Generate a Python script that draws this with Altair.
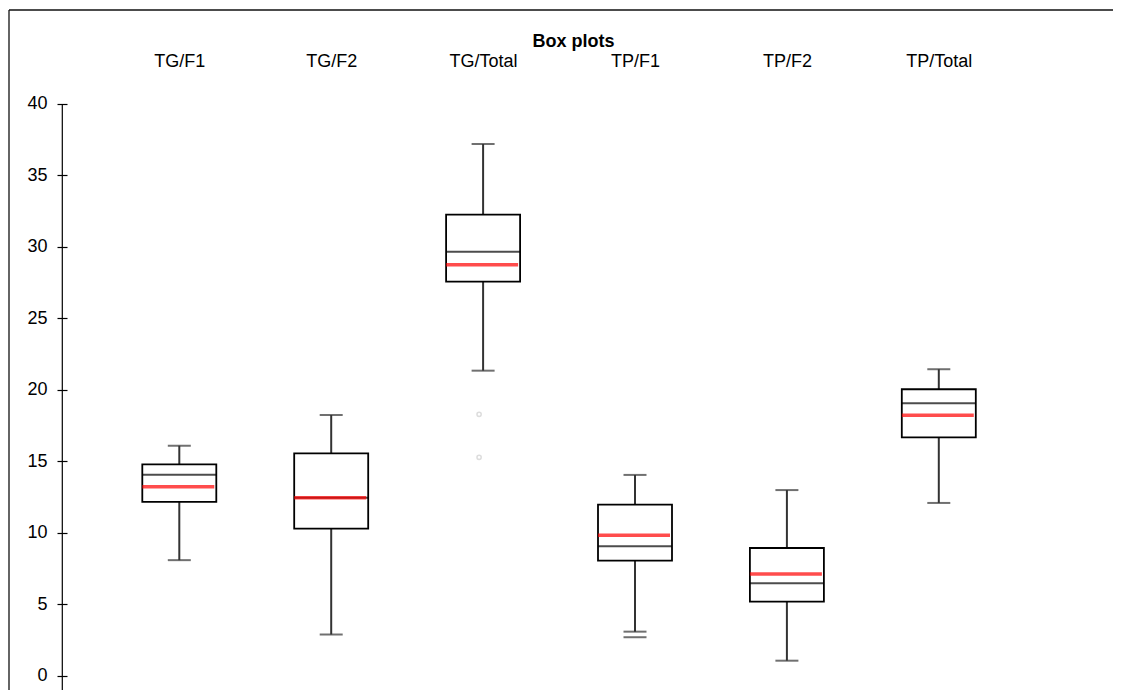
import altair as alt
import pandas as pd

categories = ["TG/F1", "TG/F2", "TG/Total", "TP/F1", "TP/F2", "TP/Total"]
whisker_low = [8.1, 2.9, 21.35, 3.1, 1.07, 12.1]
q1 = [12.17, 10.3, 27.57, 8.07, 5.2, 16.69]
median = [14.08, 12.47, 29.67, 9.07, 6.48, 19.07]
mean = [13.24, 12.47, 28.76, 9.84, 7.13, 18.23]
q3 = [14.8, 15.57, 32.26, 11.98, 8.95, 20.05]
whisker_high = [16.1, 18.25, 37.2, 14.06, 13.0, 21.45]

extra_cap_cat = ["TP/F1"]
extra_cap_val = [2.71]

outlier_cat = ["TG/Total", "TG/Total"]
outlier_val = [18.3, 15.29]

y_ticks = [0, 5, 10, 15, 20, 25, 30, 35, 40]
y_domain = [-0.98, 46.57]

W, H = 1104, 680

df = pd.DataFrame({
    "cat": categories, "lo": whisker_low, "q1": q1, "med": median,
    "mean": mean, "q3": q3, "hi": whisker_high,
})
caps = pd.DataFrame({
    "cat": categories * 2 + extra_cap_cat,
    "v": whisker_low + whisker_high + extra_cap_val,
})
outl = pd.DataFrame({"cat": outlier_cat, "v": outlier_val})
axis_line = pd.DataFrame({"a": [y_ticks[-1]], "b": [y_domain[0]]})

FONT = "Liberation Sans"

xs = alt.X(
    "cat:N", sort=categories,
    scale=alt.Scale(type="point", padding=0, range=[170.3, 929.8]),
    axis=alt.Axis(
        orient="top", offset=-60.5, domain=False, ticks=False, tickSize=0,
        labelFontSize=18, labelPadding=0, labelAngle=0, labelColor="#000",
        labelFont=FONT, title="Box plots", titleFont=FONT, titleFontSize=18,
        titleFontWeight="bold", titleColor="#000", titlePadding=2,
        titleX=564,
    ),
)
yscale = alt.Scale(domain=y_domain, nice=False, zero=False)
yaxis = alt.Axis(
    values=y_ticks, orient="left", offset=-58, domain=False, grid=False,
    tickSize=10, tickWidth=1.2, tickColor="#000", labelFontSize=18,
    labelPadding=10, labelColor="#000", labelFont=FONT, title=None,
)

base = alt.Chart(df)

whiskers = base.mark_rule(color="#333", strokeWidth=2).encode(
    x=xs, y=alt.Y("lo:Q", scale=yscale, axis=yaxis), y2="hi:Q"
)
cap_marks = alt.Chart(caps).mark_tick(color="#333", size=23, thickness=2).encode(
    x=alt.X("cat:N", sort=categories), y=alt.Y("v:Q")
)
boxes = base.mark_bar(size=74, fill="white", stroke="#000", strokeWidth=1.8).encode(
    x=alt.X("cat:N", sort=categories), y="q1:Q", y2="q3:Q"
)
medians = base.mark_tick(color="#000", size=74, thickness=2).encode(
    x=alt.X("cat:N", sort=categories), y="med:Q"
)
means = base.mark_tick(color="#ff0000", size=72, thickness=3.5, xOffset=-1).encode(
    x=alt.X("cat:N", sort=categories), y="mean:Q"
)
outliers = alt.Chart(outl).mark_point(
    shape="circle", size=18, filled=False, stroke="#cfcfcf", strokeWidth=1.5
).encode(x=alt.X("cat:N", sort=categories), xOffset=alt.value(-4), y="v:Q")
yline = alt.Chart(axis_line).mark_rule(color="#000", strokeWidth=1.2).encode(
    x=alt.value(53.3), y="a:Q", y2="b:Q"
)
frame_top = alt.Chart(axis_line).mark_rule(color="#111", strokeWidth=1.3).encode(
    x=alt.value(0), x2=alt.value(W), y=alt.value(0)
)
frame_left = alt.Chart(axis_line).mark_rule(color="#111", strokeWidth=1.3).encode(
    x=alt.value(0), y=alt.value(0), y2=alt.value(H)
)

chart = alt.layer(
    whiskers, cap_marks, boxes, medians, means, outliers, yline, frame_top, frame_left
).properties(
    width=W, height=H,
    autosize=alt.AutoSizeParams(type="none"),
    padding={"left": 1, "top": 2, "right": 0, "bottom": 0},
    background="white",
).configure_view(stroke=None)

chart.save("out.html", embed_options={"renderer": "svg", "actions": False})
